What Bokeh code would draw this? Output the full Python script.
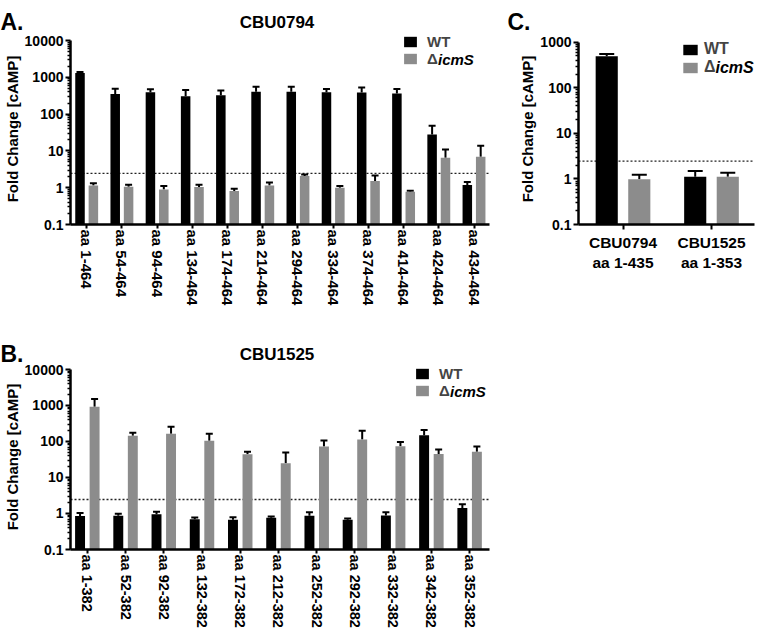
import numpy as np
from bokeh.plotting import figure
from bokeh.models import (Range1d, FixedTicker, CustomJSTickFormatter, Span, Whisker, TeeHead,
                          ColumnDataSource, Label, Legend, LegendItem, Plot)
from bokeh.core.properties import value
from bokeh.layouts import row, column
from bokeh.embed import file_html
from bokeh.resources import INLINE

FONT = "Liberation Sans"
WT_COLOR = "#000000"
KO_COLOR = "#8c8c8c"

# ---------------- data ----------------
# Panel A: CBU0794 truncations
a_labels = ["aa 1-464", "aa 54-464", "aa 94-464", "aa 134-464", "aa 174-464", "aa 214-464",
            "aa 294-464", "aa 334-464", "aa 374-464", "aa 414-464", "aa 424-464", "aa 434-464"]
a_wt = [1300, 350, 390, 305, 325, 405, 405, 390, 385, 365, 28, 1.18]
a_wt_err = [100, 140, 80, 145, 110, 150, 150, 90, 140, 115, 20, 0.25]
a_ko = [1.15, 1.06, 0.90, 1.04, 0.81, 1.15, 2.07, 1.0, 1.51, 0.78, 6.5, 6.9]
a_ko_err = [0.18, 0.14, 0.21, 0.16, 0.13, 0.24, 0.23, 0.11, 0.65, 0.05, 4.5, 6.9]

# Panel B: CBU1525 truncations
b_labels = ["aa 1-382", "aa 52-382", "aa 92-382", "aa 132-382", "aa 172-382", "aa 212-382",
            "aa 252-382", "aa 292-382", "aa 332-382", "aa 342-382", "aa 352-382"]
b_wt = [0.85, 0.86, 0.96, 0.69, 0.67, 0.76, 0.86, 0.67, 0.88, 148, 1.43]
b_wt_err = [0.19, 0.12, 0.15, 0.09, 0.12, 0.07, 0.23, 0.06, 0.21, 61, 0.37]
b_ko = [920, 143, 163, 104, 44, 25, 73, 113, 74, 45, 52]
b_ko_err = [600, 32, 92, 59, 8, 24, 33, 87, 22, 15, 21]

# Panel C: full-length proteins
c_labels = ["CBU0794\naa 1-435", "CBU1525\naa 1-353"]
c_wt = [490, 1.12]
c_wt_err = [60, 0.38]
c_ko = [0.98, 1.12]
c_ko_err = [0.26, 0.25]

threshold = 2.45
y_major = [0.1, 1, 10, 100, 1000, 10000]
y_minor = [m * 10.0 ** e for e in range(-1, 4) for m in range(2, 10)]
y_label = "Fold Change [cAMP]"

HAS_FRAME_ALIGN = "frame_align" in Plot.properties()


def no_align(p):
    if HAS_FRAME_ALIGN:
        p.frame_align = False
    return p


def make_panel(width, height, bl, br, bt, bb, x_range, y_axis_top, y_top, labels, wt, wt_err,
               ko, ko_err, bar_w, off, head, xfont, vertical):
    p = figure(width=width, height=height, x_range=Range1d(*x_range), y_range=Range1d(0.1, y_top),
               y_axis_type="log", output_backend="svg", toolbar_location=None,
               min_border_left=bl, min_border_right=br, min_border_top=bt, min_border_bottom=bb)
    no_align(p)
    p.xgrid.visible = False
    p.ygrid.visible = False
    p.outline_line_color = None
    p.background_fill_color = "white"
    p.border_fill_color = "white"

    n = len(labels)
    idx = np.arange(n)
    wt = np.array(wt, dtype=float)
    ko = np.array(ko, dtype=float)
    s_wt = ColumnDataSource(dict(x=idx - off, top=wt, up=wt + np.array(wt_err)))
    s_ko = ColumnDataSource(dict(x=idx + off, top=ko, up=ko + np.array(ko_err)))

    p.add_layout(Span(location=threshold, dimension="width", line_dash="2 2", line_width=1.3,
                      line_color="#222222", level="underlay"))

    r_wt = p.vbar(x="x", top="top", bottom=0.1, width=bar_w, source=s_wt,
                  fill_color=WT_COLOR, line_color=None)
    r_ko = p.vbar(x="x", top="top", bottom=0.1, width=bar_w, source=s_ko,
                  fill_color=KO_COLOR, line_color=None)
    for s in (s_wt, s_ko):
        p.add_layout(Whisker(source=s, base="x", lower="top", upper="up", dimension="height",
                             line_width=2, line_color="black", lower_head=None,
                             upper_head=TeeHead(size=head, line_width=2, line_color="black")))

    for ax in (p.xaxis[0], p.yaxis[0]):
        ax.axis_line_width = 2.5
        ax.axis_line_color = "black"
        ax.major_tick_line_width = 2
        ax.major_tick_line_color = "black"
        ax.major_tick_out = 5
        ax.major_tick_in = 0
        ax.major_label_text_font = FONT
        ax.major_label_text_font_style = "bold"
        ax.major_label_text_color = "black"
    yax = p.yaxis[0]
    yax.bounds = (0.1, y_axis_top)
    yax.ticker = FixedTicker(ticks=y_major, minor_ticks=y_minor)
    yax.formatter = CustomJSTickFormatter(code="return tick.toString();")
    yax.minor_tick_line_width = 1.5
    yax.minor_tick_line_color = "black"
    yax.minor_tick_out = 3
    yax.minor_tick_in = 0
    yax.major_label_text_font_size = "14px"
    yax.major_label_standoff = 2
    yax.axis_label = y_label
    yax.axis_label_text_font = FONT
    yax.axis_label_text_font_style = "bold"
    yax.axis_label_text_font_size = "15px"
    yax.axis_label_text_color = "black"
    yax.axis_label_standoff = 1

    xax = p.xaxis[0]
    xax.ticker = FixedTicker(ticks=list(range(n)))
    xax.major_label_overrides = {i: lab for i, lab in enumerate(labels)}
    xax.minor_tick_line_color = None
    xax.major_label_text_font_size = xfont
    if vertical:
        xax.major_label_orientation = "vertical"
        xax.major_tick_out = 4
        xax.major_label_standoff = 1
    else:
        xax.major_label_standoff = 4
    return p, r_wt, r_ko


def add_legend(p, r_wt, r_ko, lx, ly, gw, gh, standoff, fsize, delta_w, row_h):
    # (lx, ly): bottom-left corner of the legend, pixels from the frame's bottom-left
    leg = Legend(items=[LegendItem(label=value("WT"), renderers=[r_wt]),
                        LegendItem(label=value("\u0394"), renderers=[r_ko])],
                 location=(lx, ly), orientation="vertical", padding=0, margin=0, spacing=0,
                 glyph_width=gw, glyph_height=gh, label_standoff=standoff, label_height=gh,
                 label_text_font=FONT, label_text_font_style="bold", label_text_font_size=fsize,
                 border_line_color=None, background_fill_alpha=0)
    p.add_layout(leg)
    p.add_layout(Label(x=lx + gw + standoff + delta_w, y=ly + row_h * 0.5, x_units="screen",
                       y_units="screen", text="icmS", text_font=FONT, text_font_style="bold italic",
                       text_font_size=fsize, text_baseline="middle", text_align="left",
                       text_color="black"))


def header(width, height):
    h = figure(width=width, height=height, x_range=Range1d(0, width), y_range=Range1d(0, height),
               x_axis_type=None, y_axis_type=None, output_backend="svg", toolbar_location=None,
               min_border_left=0, min_border_right=0, min_border_top=0, min_border_bottom=0)
    no_align(h)
    h.xgrid.visible = False
    h.ygrid.visible = False
    h.outline_line_color = None
    h.border_fill_color = "white"
    h.background_fill_color = "white"
    return h


def add_text(p, x, y, text, size, align="left"):
    p.add_layout(Label(x=x, y=y, x_units="screen", y_units="screen", text=text, text_font=FONT,
                       text_font_style="bold", text_font_size=size, text_align=align,
                       text_baseline="alphabetic", text_color="black"))


# ---------------- header above A and C ----------------
hTop = header(755, 33)
add_text(hTop, 0, 11.5, "A.", "23px")
add_text(hTop, 276.5, 11, "CBU0794", "17px", align="center")
add_text(hTop, 507, 11.5, "C.", "23px")

# ---------------- Panel A ----------------
pA, aw, ak = make_panel(514, 277, 64, 25, 0, 86, (-0.46, 11.44), 10000, 10000 * 10 ** (7 / 36.8),
                        a_labels, a_wt, a_wt_err, a_ko, a_ko_err, 0.27, 0.19, 7, "15px", True)
add_legend(pA, aw, ak, 332, 157, 16, 13, 9, "15px", 10.5, 17)

# ---------------- Panel C ----------------
pC, cw, ck = make_panel(241, 277, 64, 1, 0, 86, (-0.503, 1.486), 1000, 1000 * 10 ** (8.7 / 45.65),
                        c_labels, c_wt, c_wt_err, c_ko, c_ko_err, 0.25, 0.184, 15, "15.5px", False)
add_legend(pC, cw, ck, 103, 148, 18, 13, 5, "16px", 11, 18)

# ---------------- header above B ----------------
hB = header(514, 54)
add_text(hB, 0, 11, "B.", "23px")
add_text(hB, 276.5, 10, "CBU1525", "17px", align="center")

# ---------------- Panel B ----------------
pB, bw, bk = make_panel(514, 266, 64, 25, 0, 79, (-0.44, 10.52), 10000, 10000 * 10 ** (5 / 36.4),
                        b_labels, b_wt, b_wt_err, b_ko, b_ko_err, 0.26, 0.19, 7, "14.5px", True)
add_legend(pB, bw, bk, 344, 150, 16, 13, 9, "15px", 10.5, 17)

layout = column(hTop, row(pA, pC), hB, pB)
open("out.html", "w").write(file_html(layout, INLINE))
